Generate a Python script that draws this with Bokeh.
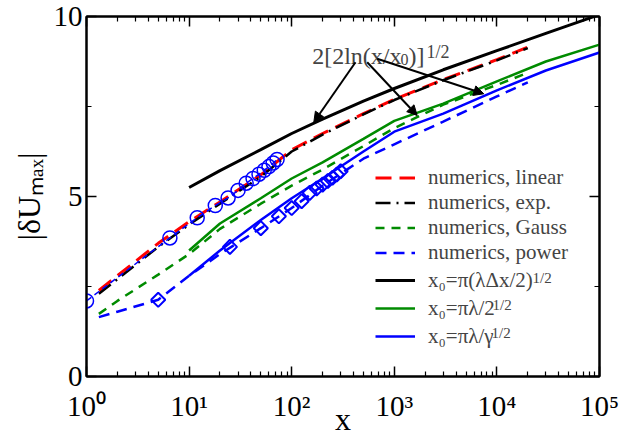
import numpy as np
from bokeh.plotting import figure
from bokeh.models import (Range1d, FixedTicker, LinearAxis, LogAxis, Label, Arrow,
                          NormalHead, Legend, LegendItem)
from bokeh.embed import file_html
from bokeh.resources import INLINE

# ---------------- data ----------------
lin_x = [1.32, 2, 5, 10, 20, 50, 100, 200, 500, 1000, 3000, 10000, 20000]
lin_y = [2.39, 2.8, 3.7, 4.3, 4.85, 5.6, 6.3, 6.75, 7.3, 7.7, 8.25, 8.8, 9.15]

exp_x = [1.32, 2, 5, 10, 20, 50, 100, 200, 500, 1000, 3000, 10000, 20000]
exp_y = [2.30, 2.7, 3.6, 4.22, 4.8, 5.55, 6.25, 6.72, 7.28, 7.68, 8.23, 8.78, 9.12]

gauss_x = [1.32, 2, 5, 10, 20, 50, 100, 200, 500, 1000, 3000, 10000, 19000]
gauss_y = [1.74, 2.1, 2.83, 3.4, 4.1, 4.8, 5.3, 5.75, 6.4, 6.9, 7.55, 8.1, 8.41]

power_x = [1.32, 2, 5, 10, 20, 50, 100, 200, 500, 1000, 3000, 10000, 20000]
power_y = [1.65, 1.8, 2.13, 2.8, 3.4, 4.12, 4.68, 5.3, 6.05, 6.45, 7.08, 7.78, 8.17]

theory_x = [10, 20, 50, 100, 200, 500, 1000, 3000, 10000, 30000, 100000]
theory_black_y = [5.25, 5.72, 6.3, 6.75, 7.15, 7.65, 8.0, 8.52, 9.05, 9.53, 10.05]
theory_green_y = [3.5, 4.25, 4.95, 5.5, 5.95, 6.6, 7.1, 7.58, 8.2, 8.75, 9.22]
theory_blue_y = [2.8, 3.5, 4.35, 4.95, 5.5, 6.25, 6.8, 7.3, 7.95, 8.5, 9.0]

circle_x = [1, 6.5, 12, 18, 24, 30, 36, 42, 48, 54, 60, 66, 72]
circle_y = [2.1, 3.85, 4.41, 4.75, 4.96, 5.17, 5.37, 5.5, 5.62, 5.73, 5.83, 5.93, 6.03]

diamond_x = [5, 25, 50, 75, 100, 125, 150, 175, 200, 225, 250, 275, 300]
diamond_y = [2.13, 3.6, 4.12, 4.45, 4.68, 4.87, 5.1, 5.22, 5.33, 5.43, 5.52, 5.61, 5.7]

x_ticks = [1, 10, 100, 1000, 10000, 100000]
x_tick_labels = ["10⁰", "10¹", "10²", "10³", "10⁴", "10⁵"]
y_ticks = [0, 5, 10]
y_minor = [2.5, 7.5]

legend_labels = ["numerics, linear", "numerics, exp.", "numerics, Gauss", "numerics, power",
                 "x₀=π(λΔx/2)", "x₀=πλ/2", "x₀=πλ/γ"]
x_title = "x"
y_title = "|δUₘₐₓ|"

RED, BLACK, GREEN, BLUE = "#ff0000", "#000000", "#008b00", "#0000ff"
FONT = "Liberation Serif"

# ---------------- layout (page pixels) ----------------
FL, FR, FT, FB = 86, 599, 16, 376   # frame edges on the page
W, H = 633, 439


def px2x(px):
    return 10 ** ((px - FL) / (FR - FL) * 5)


def py2y(py):
    return (FB - py) / (FB - FT) * 10


p = figure(width=W, height=H, x_axis_type="log", output_backend="svg",
           toolbar_location=None, x_range=Range1d(1, 1e5), y_range=Range1d(0, 10),
           min_border_left=FL, min_border_right=W - FR, min_border_top=FT,
           min_border_bottom=H - FB)
p.xgrid.visible = False
p.ygrid.visible = False
p.outline_line_color = "black"
p.outline_line_width = 2
p.background_fill_color = "white"
p.border_fill_color = "white"

x_minor = [m * 10 ** d for d in range(5) for m in range(2, 10)]
xt = FixedTicker(ticks=x_ticks, minor_ticks=x_minor)
yt = FixedTicker(ticks=y_ticks, minor_ticks=y_minor)


def style_axis(ax, labels=True):
    ax.axis_line_width = 2
    ax.major_tick_in = 10
    ax.major_tick_out = 0
    ax.minor_tick_in = 5
    ax.minor_tick_out = 0
    ax.major_tick_line_width = 1.5
    ax.minor_tick_line_width = 1.2
    ax.major_label_text_font = FONT
    ax.axis_label_text_font = FONT
    ax.axis_label_text_font_style = "normal"
    ax.axis_label_text_color = "black"
    if labels:
        ax.major_label_text_font_size = "29px"
        ax.major_label_text_color = "black"
    else:
        ax.major_label_text_font_size = "1px"
        ax.major_label_text_color = None
        ax.major_label_standoff = 0


xa = p.xaxis[0]
ya = p.yaxis[0]
xa.ticker = xt
xa.major_label_overrides = {t: s for t, s in zip(x_ticks, x_tick_labels)}
ya.ticker = yt
style_axis(xa)
style_axis(ya)
xa.major_label_standoff = 13
ya.major_label_standoff = 4
xa.axis_label = x_title
xa.axis_label_text_font_size = "32px"
xa.axis_label_standoff = -24
ya.axis_label = y_title
ya.axis_label_text_font_size = "32px"
ya.axis_label_standoff = 4

ra = LinearAxis(ticker=yt)
style_axis(ra, labels=False)
p.add_layout(ra, "right")
ta = LogAxis(ticker=xt)
style_axis(ta, labels=False)
p.add_layout(ta, "above")

# ---------------- curves ----------------
r_lin = p.line(lin_x, lin_y, line_color=RED, line_width=3, line_dash="16 8")
r_exp = p.line(exp_x, exp_y, line_color=BLACK, line_width=2.5, line_dash="15 6 2 6")
r_gau = p.line(gauss_x, gauss_y, line_color=GREEN, line_width=2.5, line_dash="9 7")
r_pow = p.line(power_x, power_y, line_color=BLUE, line_width=2.5, line_dash="11 7")
r_tb = p.line(theory_x, theory_black_y, line_color=BLACK, line_width=3)
r_tg = p.line(theory_x, theory_green_y, line_color=GREEN, line_width=2.5)
r_tbl = p.line(theory_x, theory_blue_y, line_color=BLUE, line_width=2.5)

p.line(circle_x, circle_y, line_color=BLUE, line_width=1.5, line_dash="6 4")
p.scatter(circle_x, circle_y, marker="circle", size=14, line_color=BLUE, line_width=1.5,
          fill_color=None)
p.scatter(diamond_x, diamond_y, marker="square", angle=np.pi / 4, size=10, line_color=BLUE,
          line_width=2, fill_color=None)


# ---------------- legends ----------------
def make_legend(items, loc, h):
    return Legend(items=items, location=loc, orientation="vertical",
                  label_text_font=FONT, label_text_font_size="21px",
                  glyph_width=40, glyph_height=h, label_height=h, label_standoff=13,
                  spacing=0, padding=0, margin=0, border_line_color=None,
                  background_fill_alpha=0)


leg1 = make_legend([LegendItem(label=legend_labels[i], renderers=[r])
                    for i, r in enumerate([r_lin, r_exp, r_gau, r_pow])],
                   (375 - FL, FB - 265), 23)
leg2 = make_legend([LegendItem(label=legend_labels[4 + i], renderers=[r])
                    for i, r in enumerate([r_tb, r_tg, r_tbl])],
                   (375 - FL, FB - 350), 28)
p.add_layout(leg1)
p.add_layout(leg2)

for px, py in [(532, 277), (492, 304), (491, 332)]:
    p.add_layout(Label(x=px2x(px), y=py2y(py), text="1/2", text_font=FONT,
                       text_font_size="15px", text_align="left",
                       text_baseline="alphabetic"))

# ---------------- annotation ----------------
ann = [("2[2ln(x/x", 311.7, 55, "24px"), ("0", 400, 59, "16px"),
       (")]", 408, 55, "24px"), ("1/2", 426, 51, "18px")]
for t, px, py, fs in ann:
    p.add_layout(Label(x=px2x(px), y=py2y(py), text=t, text_font=FONT, text_font_size=fs,
                       text_align="left", text_baseline="alphabetic"))

for (sx, sy), (ex, ey) in [((355, 61.7), (313.3, 121.7)), ((366.7, 61.7), (416.7, 115)),
                           ((376.7, 58.3), (483.3, 93.3))]:
    p.add_layout(Arrow(end=NormalHead(size=10, fill_color="black", line_color="black"),
                       x_start=px2x(sx), y_start=py2y(sy), x_end=px2x(ex), y_end=py2y(ey),
                       line_width=2, line_color="black"))

open("out.html", "w").write(file_html(p, INLINE))
